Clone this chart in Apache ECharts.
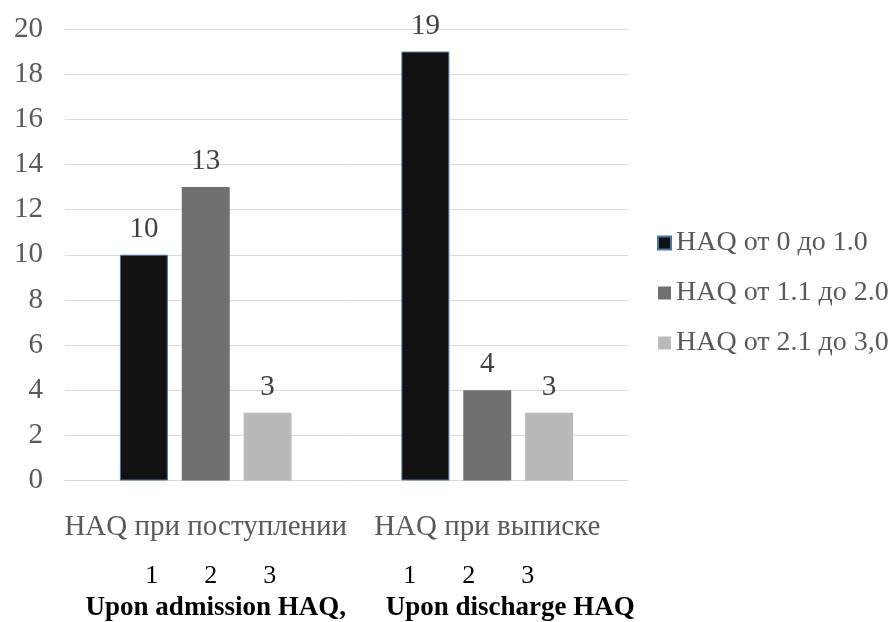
<!DOCTYPE html>
<html>
<head>
<meta charset="utf-8">
<script src="https://cdn.jsdelivr.net/npm/echarts@6/dist/echarts.min.js"></script>
<style>html,body{margin:0;padding:0;background:#fff}#c{width:892px;height:622px}</style>
</head>
<body>
<div id="c"></div>
<script>
const categories = ['HAQ при поступлении', 'HAQ при выписке'];
const categoriesEn = ['Upon admission HAQ,', 'Upon discharge HAQ'];
const barNumbers = ['1', '2', '3'];
const seriesNames = ['HAQ от 0 до 1.0', 'HAQ от 1.1 до 2.0', 'HAQ от 2.1 до 3,0'];
const series1 = [10, 19];
const series2 = [13, 4];
const series3 = [3, 3];
const yTicks = {min: 0, max: 20, interval: 2};

const serif = 'Liberation Serif';
const colors = ['#111111', '#707070', '#b9b9b9'];
// layout shifts (px) for extra label lines, per category
const numPad = [[10, 0], [0, 37]];
const enPad = [[20, 0], [46, 0]];

const chart = echarts.init(document.getElementById('c'), null, {renderer: 'canvas'});
const rich = {
  ru: {fontFamily: serif, fontSize: 29, color: '#595959', lineHeight: 66},
  num: {fontFamily: serif, fontSize: 26, color: '#000', width: 59, align: 'center', lineHeight: 32},
  en: {fontFamily: serif, fontSize: 27, fontWeight: 'bold', color: '#000', lineHeight: 32}
};
[0, 1].forEach(i => {
  rich['nl' + i] = {width: numPad[i][0], lineHeight: 32, fontSize: 26};
  rich['nr' + i] = {width: numPad[i][1], lineHeight: 32, fontSize: 26};
  rich['el' + i] = {width: enPad[i][0], lineHeight: 32, fontSize: 27};
  rich['er' + i] = {width: enPad[i][1], lineHeight: 32, fontSize: 27};
});

const data = [series1, series2, series3];
chart.setOption({
  animation: false,
  grid: {left: 65, right: 264, top: 29, bottom: 141, containLabel: false},
  legend: {
    orient: 'vertical', left: 657, top: 229, itemGap: 22, padding: 0,
    itemWidth: 13, itemHeight: 13, icon: 'rect',
    textStyle: {fontFamily: serif, fontSize: 28, color: '#595959'},
    data: seriesNames
  },
  xAxis: {
    type: 'category', data: categories,
    axisLine: {lineStyle: {color: '#d9d9d9'}},
    axisTick: {show: false},
    axisLabel: {
      margin: 14, interval: 0,
      formatter: function (v, i) {
        const nums = barNumbers.map(n => '{num|' + n + '}').join('');
        return '{ru|' + v + '}\n' +
          '{nl' + i + '| }' + nums + '{nr' + i + '| }\n' +
          '{el' + i + '| }{en|' + categoriesEn[i] + '}{er' + i + '| }';
      },
      rich: rich
    }
  },
  yAxis: {
    type: 'value', min: yTicks.min, max: yTicks.max, interval: yTicks.interval,
    axisLine: {show: false}, axisTick: {show: false},
    axisLabel: {margin: 22, fontFamily: serif, fontSize: 29, color: '#595959'},
    splitLine: {lineStyle: {color: '#dcdcdc', width: 1}}
  },
  series: seriesNames.map((name, k) => ({
    name: name, type: 'bar', data: data[k],
    barGap: '29%', barCategoryGap: '39%',
    itemStyle: {color: colors[k], borderColor: k === 0 ? '#4f74a8' : colors[k], borderWidth: k === 0 ? 1 : 0},
    label: {show: true, position: 'top', distance: 11, fontFamily: serif, fontSize: 29, color: '#404040'}
  }))
});
</script>
</body>
</html>
